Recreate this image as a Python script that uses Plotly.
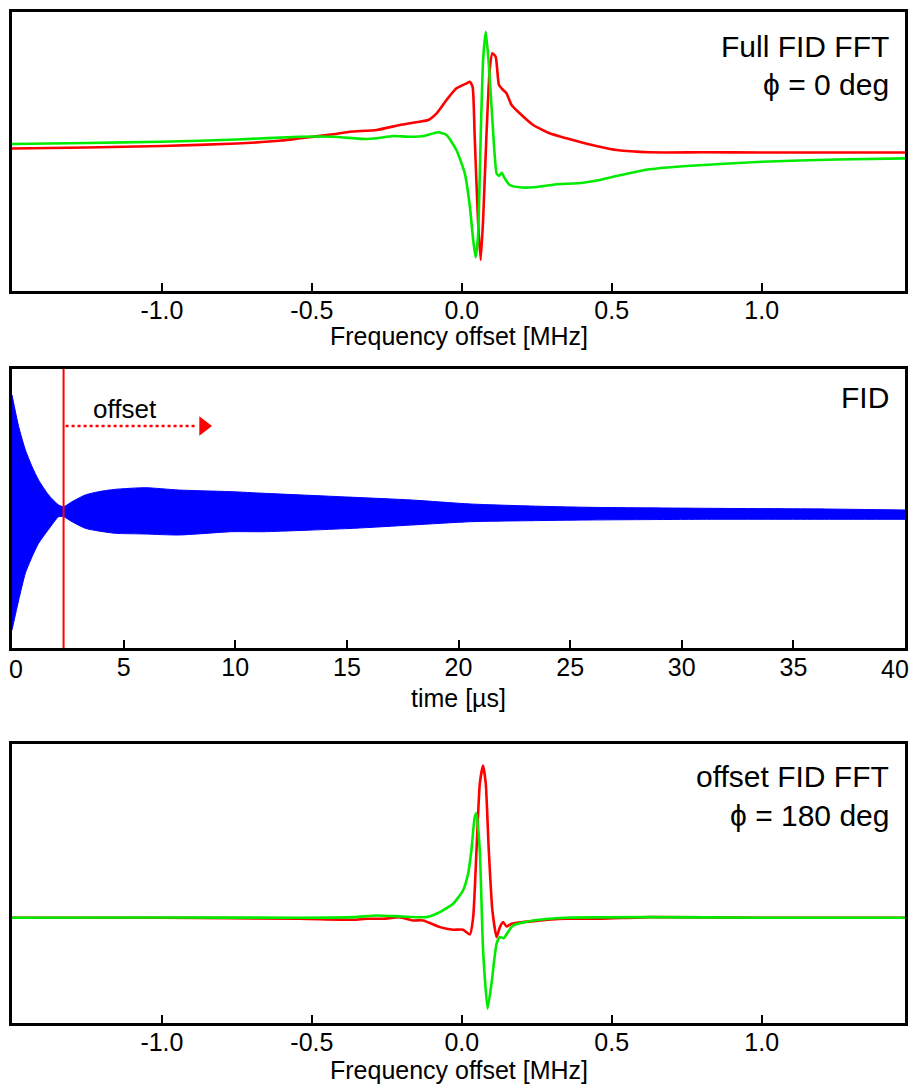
import plotly.graph_objects as go

# ---------------- data (arbitrary units) -------------
# Top panel: full FID FFT, phi = 0 deg
f_top_red = [-1.5, -1.25, -1.0, -0.75, -0.6, -0.54, -0.43, -0.373, -0.284, -0.207, -0.163,
             -0.112, -0.084, -0.051, -0.018, 0.016, 0.027, 0.036, 0.043, 0.054, 0.063, 0.071,
             0.082, 0.093, 0.102, 0.113, 0.124, 0.138, 0.149, 0.166, 0.193, 0.238, 0.293,
             0.349, 0.404, 0.46, 0.516, 0.627, 0.8, 1.0, 1.25, 1.48]
a_top_red = [0.035, 0.045, 0.06, 0.085, 0.115, 0.137, 0.177, 0.203, 0.22, 0.27, 0.293,
             0.32, 0.387, 0.52, 0.637, 0.687, 0.703, 0.653, 0.153, -0.68, -1.08, -0.68,
             0.153, 0.82, 0.987, 0.953, 0.67, 0.62, 0.587, 0.47, 0.387, 0.27, 0.187,
             0.137, 0.093, 0.053, 0.02, -0.003, -0.003, -0.005, -0.005, -0.005]

f_top_green = [-1.5, -1.25, -1.0, -0.75, -0.54, -0.43, -0.318, -0.284, -0.229, -0.173, -0.123,
               -0.079, -0.051, -0.018, 0.01, 0.027, 0.038, 0.046, 0.054, 0.063, 0.071, 0.08,
               0.089, 0.102, 0.116, 0.124, 0.133, 0.143, 0.16, 0.193, 0.238, 0.304, 0.404,
               0.46, 0.516, 0.627, 0.75, 1.0, 1.25, 1.48]
a_top_green = [0.08, 0.09, 0.103, 0.125, 0.153, 0.153, 0.13, 0.137, 0.16, 0.153, 0.163,
               0.197, 0.17, 0.02, -0.213, -0.547, -0.88, -1.053, -0.847, 0.153, 0.92, 1.203,
               0.92, 0.32, -0.213, -0.24, -0.207, -0.263, -0.33, -0.353, -0.353, -0.327, -0.307,
               -0.28, -0.24, -0.173, -0.14, -0.097, -0.075, -0.063]

# Middle panel: FID envelope (upper / lower edge of the blue band)
t_fid = [0, 0.3, 0.6, 0.9, 1.19, 1.64, 2.09, 2.31, 2.69, 3.28, 3.88, 4.63, 5.97, 7.46,
         9.85, 11.3, 15.3, 17.9, 20.55, 23.2, 25.8, 31.1, 36.4, 40]
fid_upper = [1.17, 0.853, 0.62, 0.453, 0.32, 0.17, 0.07, 0.053, 0.103, 0.17, 0.203, 0.227,
             0.243, 0.22, 0.203, 0.187, 0.147, 0.12, 0.08, 0.06, 0.047, 0.037, 0.03, 0.02]
fid_lower = [-1.18, -0.88, -0.61, -0.447, -0.313, -0.173, -0.047, -0.047, -0.097, -0.163,
             -0.19, -0.213, -0.22, -0.23, -0.197, -0.197, -0.163, -0.13, -0.097, -0.087,
             -0.08, -0.073, -0.073, -0.073]
t_offset = 2.31
arrow_t = [2.4, 8.22]
arrow_head_t = 8.58
arrow_y = 0.86

# Bottom panel: offset FID FFT, phi = 180 deg
f_bot_red = [-1.5, -1.0, -0.54, -0.36, -0.318, -0.26, -0.207, -0.164, -0.129, -0.073, -0.029,
             0.004, 0.027, 0.038, 0.049, 0.06, 0.071, 0.08, 0.09, 0.102, 0.116, 0.127, 0.138,
             0.149, 0.166, 0.238, 0.349, 0.465, 0.627, 1.0, 1.48]
a_bot_red = [0.0, 0.0, -0.01, -0.02, -0.01, -0.01, 0.006, -0.027, -0.027, -0.094, -0.12,
             -0.12, -0.167, 0.006, 0.673, 1.34, 1.523, 1.34, 0.673, 0.073, -0.194, -0.094, -0.044,
             -0.087, -0.06, -0.034, -0.01, -0.01, 0.006, 0.0, 0.0]

f_bot_green = [-1.5, -1.0, -0.54, -0.36, -0.284, -0.2, -0.118, -0.073, -0.029, 0.004, 0.021,
               0.032, 0.043, 0.049, 0.06, 0.071, 0.086, 0.099, 0.116, 0.127, 0.14, 0.154,
               0.171, 0.238, 0.349, 0.627, 1.0, 1.48]
a_bot_green = [0.0, 0.003, 0.0, 0.006, 0.023, 0.013, 0.006, 0.056, 0.14, 0.273, 0.44,
               0.673, 1.006, 1.046, 0.673, -0.327, -0.91, -0.66, -0.26, -0.194, -0.204, -0.144,
               -0.077, -0.027, 0.0, 0.006, 0.0, 0.0]

freq_ticks = [-1.0, -0.5, 0.0, 0.5, 1.0]
freq_ticktext = ["-1.0", "-0.5", "0.0", "0.5", "1.0"]
time_ticks = [0, 5, 10, 15, 20, 25, 30, 35, 40]
# end labels "0" and "40" are drawn as separate labels so they stay inside the page
time_ticktext = ["", "5", "10", "15", "20", "25", "30", "35", ""]

RED = "rgb(255,0,0)"
GREEN = "rgb(0,235,0)"
BLUE = "rgb(0,0,255)"
FONT = "Liberation Sans, Arial, Helvetica, sans-serif"
TICK_SIZE = 25

fig = go.Figure()

# top spectra
fig.add_trace(go.Scatter(x=f_top_red, y=a_top_red, mode="lines", xaxis="x", yaxis="y",
                         line=dict(color=RED, width=2.6, shape="spline", smoothing=0.5)))
fig.add_trace(go.Scatter(x=f_top_green, y=a_top_green, mode="lines", xaxis="x", yaxis="y",
                         line=dict(color=GREEN, width=2.6, shape="spline", smoothing=0.5)))

# FID band
fig.add_trace(go.Scatter(x=t_fid, y=fid_upper, mode="lines", xaxis="x2", yaxis="y2",
                         line=dict(color=BLUE, width=1, shape="spline", smoothing=0.6)))
fig.add_trace(go.Scatter(x=t_fid, y=fid_lower, mode="lines", xaxis="x2", yaxis="y2",
                         fill="tonexty", fillcolor=BLUE,
                         line=dict(color=BLUE, width=1, shape="spline", smoothing=0.6)))
# offset arrow
fig.add_trace(go.Scatter(x=arrow_t, y=[arrow_y, arrow_y], mode="lines", xaxis="x2", yaxis="y2",
                         line=dict(color=RED, width=2.5, dash="dot")))
fig.add_trace(go.Scatter(x=[arrow_head_t], y=[arrow_y], mode="markers", xaxis="x2", yaxis="y2",
                         marker=dict(symbol="triangle-right", size=17, color=RED, line=dict(width=0))))

# bottom spectra
fig.add_trace(go.Scatter(x=f_bot_red, y=a_bot_red, mode="lines", xaxis="x3", yaxis="y3",
                         line=dict(color=RED, width=2.6, shape="spline", smoothing=0.5)))
fig.add_trace(go.Scatter(x=f_bot_green, y=a_bot_green, mode="lines", xaxis="x3", yaxis="y3",
                         line=dict(color=GREEN, width=2.6, shape="spline", smoothing=0.5)))

axis_common = dict(showline=True, linecolor="black", linewidth=2.5, mirror=True,
                   showgrid=False, zeroline=False, automargin=False)
xcommon = dict(axis_common, ticks="inside", ticklen=8, tickwidth=2, tickcolor="black",
               tickfont=dict(size=TICK_SIZE, color="black", family=FONT),
               ticklabeloverflow="allow", ticklabelstandoff=-5)
ycommon = dict(axis_common, showticklabels=False, ticks="")

fig.update_layout(
    width=912, height=1076,
    margin=dict(l=4, r=15, t=4, b=61, autoexpand=False),
    paper_bgcolor="white", plot_bgcolor="white",
    showlegend=False,
    font=dict(family=FONT, color="black"),
    xaxis=dict(xcommon, domain=[0, 1], anchor="y", range=[-1.5, 1.478],
               tickvals=freq_ticks, ticktext=freq_ticktext),
    yaxis=dict(ycommon, domain=[0.724, 1.0], anchor="x", range=[-1.39, 1.40]),
    xaxis2=dict(xcommon, domain=[0, 1], anchor="y2", range=[0, 40],
                tickvals=time_ticks, ticktext=time_ticktext),
    yaxis2=dict(ycommon, domain=[0.3709, 0.6469], anchor="x2", range=[-1.36, 1.43]),
    xaxis3=dict(xcommon, domain=[0, 1], anchor="y3", range=[-1.5, 1.478],
                tickvals=freq_ticks, ticktext=freq_ticktext),
    yaxis3=dict(ycommon, domain=[0, 0.276], anchor="x3", range=[-1.054, 1.74]),
)

fig.add_shape(type="line", xref="x2", yref="y2 domain", x0=t_offset, x1=t_offset, y0=0, y1=1,
              line=dict(color=RED, width=2))

# end labels of the time axis
fig.add_annotation(text="0", xref="paper", yref="paper", x=-0.0045, y=0.350,
                   xanchor="left", yanchor="middle", showarrow=False, borderpad=0,
                   font=dict(size=TICK_SIZE, color="black", family=FONT))
fig.add_annotation(text="40", xref="paper", yref="paper", x=1.006, y=0.350,
                   xanchor="right", yanchor="middle", showarrow=False, borderpad=0,
                   font=dict(size=TICK_SIZE, color="black", family=FONT))

# axis titles
def axis_title(text, y):
    fig.add_annotation(text=text, xref="paper", yref="paper", x=0.5, y=y,
                       xanchor="center", yanchor="middle", showarrow=False,
                       font=dict(size=TICK_SIZE, color="black", family=FONT))

axis_title("Frequency offset [MHz]", 0.680)
axis_title("time [µs]", 0.321)
axis_title("Frequency offset [MHz]", -0.046)

# panel labels
def label(text, y, size=30):
    fig.add_annotation(text=text, xref="paper", yref="paper", x=0.984, y=y,
                       xanchor="right", yanchor="middle", showarrow=False,
                       font=dict(size=size, color="black", family=FONT))

label("Full FID FFT", 0.9654)
label("ϕ = 0 deg", 0.9283)
label("FID", 0.6182)
label("offset FID FFT", 0.2436)
label("ϕ = 180 deg", 0.2057)

fig.add_annotation(text="offset", xref="x2", yref="paper", x=5.05, y=0.6073,
                   xanchor="center", yanchor="middle", showarrow=False,
                   font=dict(size=26, color="black", family=FONT))

fig.write_html("out.html")
